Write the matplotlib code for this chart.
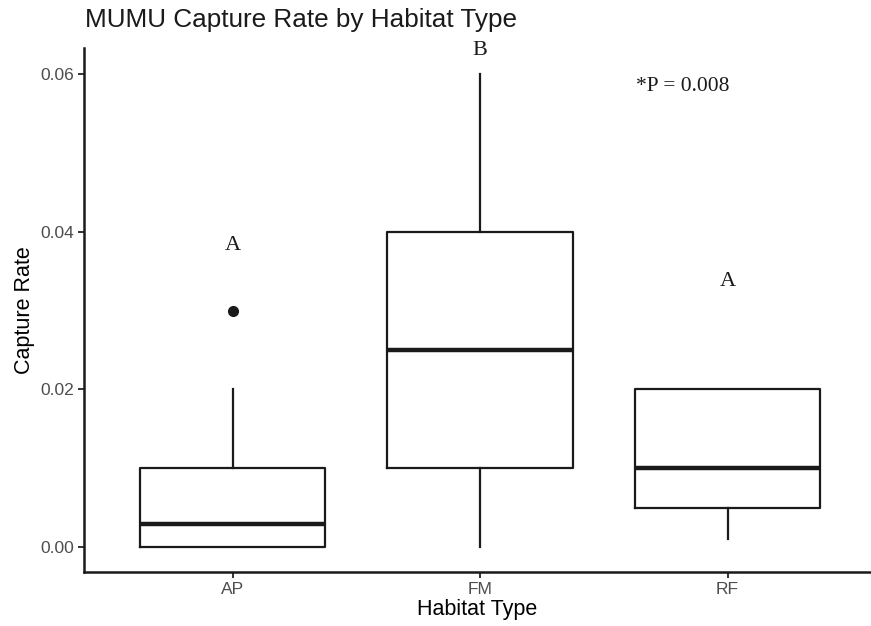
import matplotlib
matplotlib.use("Agg")
import matplotlib.pyplot as plt

# Habitat groups and their boxplot summaries (capture rate)
habitats = ["AP", "FM", "RF"]
whisker_low = [0.0, 0.0, 0.001]
q1 = [0.0, 0.01, 0.005]
median = [0.003, 0.025, 0.01]
q3 = [0.01, 0.04, 0.02]
whisker_high = [0.02, 0.06, 0.02]
outliers = [[0.03], [], []]

# Significance group letters and their heights
group_letters = ["A", "B", "A"]
letter_y = [0.0383, 0.0630, 0.0337]
p_label = "*P = 0.008"
p_pos = (2.82, 0.0584)

y_ticks = [0.00, 0.02, 0.04, 0.06]

fig = plt.figure(figsize=(8.71, 6.26), dpi=100)
ax = fig.add_axes([84 / 871, 1 - 572 / 626, 1 - 84 / 871, (572 - 48) / 626])

stats = []
for i, h in enumerate(habitats):
    stats.append(dict(label=h, whislo=whisker_low[i], q1=q1[i], med=median[i],
                      q3=q3[i], whishi=whisker_high[i], fliers=outliers[i]))

positions = list(range(1, len(habitats) + 1))
ax.bxp(stats, positions=positions, widths=0.75, showcaps=False,
       boxprops=dict(color="#1a1a1a", linewidth=1.6),
       whiskerprops=dict(color="#1a1a1a", linewidth=1.6),
       medianprops=dict(color="#1a1a1a", linewidth=3.2, solid_capstyle="butt"),
       flierprops=dict(marker="o", markerfacecolor="#1a1a1a", markeredgecolor="#1a1a1a",
                       markersize=7))

serif = ["Liberation Serif", "DejaVu Serif"]
for x, t, y in zip(positions, group_letters, letter_y):
    ax.text(x, y, t, ha="center", va="center", family=serif, fontsize=16, color="#1a1a1a")
ax.text(p_pos[0], p_pos[1], p_label, ha="center", va="center", family=serif,
        fontsize=15.5, color="#1a1a1a")

ax.set_xlim(0.4, 0.4 + (871 - 84) / 247.5)
ax.set_ylim(-0.00315, 0.0633)
ax.set_yticks(y_ticks)
ax.set_yticklabels([f"{v:.2f}" for v in y_ticks])
ax.set_xticks(positions)
ax.set_xticklabels(habitats)

for side in ["top", "right"]:
    ax.spines[side].set_visible(False)
for side in ["left", "bottom"]:
    ax.spines[side].set_linewidth(1.8)
    ax.spines[side].set_color("#1a1a1a")
ax.tick_params(axis="both", length=4, width=1.4, color="#333333",
               labelsize=12.5, labelcolor="#4d4d4d", pad=3)

ax.set_xlabel("Habitat Type", fontsize=15.5, family="Liberation Sans", labelpad=2)
ax.set_ylabel("Capture Rate", fontsize=15.5, family="Liberation Sans", labelpad=4)
for lab in ax.get_xticklabels() + ax.get_yticklabels():
    lab.set_family("Liberation Sans")

fig.text(85 / 871, 1 - 20 / 626, "MUMU Capture Rate by Habitat Type", ha="left", va="center",
         fontsize=18.8, family="Liberation Sans", color="#1a1a1a")

fig.savefig("out.png", dpi=100)
